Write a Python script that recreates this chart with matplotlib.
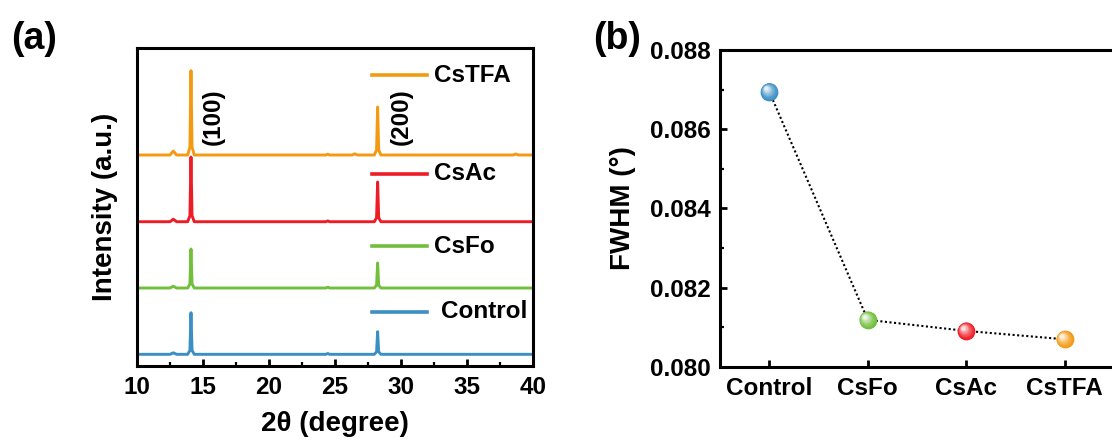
import matplotlib
matplotlib.use("Agg")
import matplotlib.pyplot as plt
import matplotlib.transforms as mtransforms
from matplotlib.colors import to_rgb
from matplotlib.ticker import MultipleLocator, AutoMinorLocator, FormatStrFormatter
import numpy as np

plt.rcParams['font.family'] = ['Liberation Sans', 'DejaVu Sans']
plt.rcParams['font.weight'] = 'bold'

# XRD patterns (stacked), read as peak profiles
two_theta = [10.0, 12.5, 12.75, 13.0, 13.84, 14.01, 14.09, 14.17, 14.34,
             24.3, 24.45, 24.6, 26.3, 26.5, 26.7,
             27.98, 28.15, 28.23, 28.31, 28.48, 38.5, 38.7, 38.9, 40.0]
control = [0, 0, 1.5, 0, 0, 4, 41.6, 4, 0, 0, 0.8, 0, 0, 0, 0,
           0, 2.5, 22.6, 2.5, 0, 0, 0, 0, 0]
csfo = [0, 0, 1.8, 0, 0, 4, 39.0, 4, 0, 0, 0.8, 0, 0, 0, 0,
        0, 2.8, 25.0, 2.8, 0, 0, 0, 0, 0]
csac = [0, 0, 2.5, 0, 0, 6, 64.7, 6, 0, 0, 0.8, 0, 0, 0, 0,
        0, 4, 39.7, 4, 0, 0, 0, 0, 0]
cstfa = [0, 0, 4, 0, 0, 8, 84.3, 8, 0, 0, 0.8, 0, 0, 1.2, 0,
         0, 5, 48.0, 5, 0, 0, 1, 0, 0]
offsets = [0, 66.3, 132.6, 199.3]

samples = ["Control", "CsFo", "CsAc", "CsTFA"]
colors = ["#3b8fc5", "#72bf3c", "#ee1c25", "#f39a12"]
patterns = [control, csfo, csac, cstfa]

# FWHM of the (100) peak
fwhm = [0.08695, 0.08119, 0.08091, 0.08070]

# legend rows (axes fraction) placed next to each trace
legend_y = [0.170, 0.377, 0.604, 0.915]
legend_text_x = [0.768, 0.75, 0.75, 0.75]

fig = plt.figure(figsize=(11.12, 4.42), dpi=100)
ax1 = fig.add_axes([0.1232, 0.1719, 0.3561, 0.7195])
ax2 = fig.add_axes([0.6475, 0.1697, 0.3543, 0.7172])

tick_font = 17.5
label_font = 20

for ax in (ax1, ax2):
    for sp in ax.spines.values():
        sp.set_linewidth(2.2)
    ax.tick_params(direction='in', width=2, length=5, labelsize=tick_font, pad=7)
    ax.tick_params(which='minor', direction='in', width=1.6, length=3)

# (a) stacked patterns
for y, off, c in zip(patterns, offsets, colors):
    ax1.plot(two_theta, np.array(y) + off, color=c, lw=2.1)

for name, c, ly, tx in zip(samples, colors, legend_y, legend_text_x):
    ax1.plot([0.593, 0.732], [ly, ly], color=c, lw=2.6, transform=ax1.transAxes)
    ax1.text(tx, ly, name, transform=ax1.transAxes, fontsize=tick_font,
             fontweight='bold', va='center', ha='left')

ax1.text(15.76, 0.783, "(100)", transform=ax1.get_xaxis_transform(),
         rotation=90, fontsize=tick_font, ha='center', va='center')
ax1.text(30.05, 0.783, "(200)", transform=ax1.get_xaxis_transform(),
         rotation=90, fontsize=tick_font, ha='center', va='center')

ax1.set_xlim(10, 40)
ax1.set_ylim(-11.7, 306.3)
ax1.xaxis.set_major_locator(MultipleLocator(5))
ax1.xaxis.set_minor_locator(AutoMinorLocator(2))
ax1.set_yticks([])
ax1.set_xlabel("2θ (degree)", fontsize=label_font, fontweight='bold', labelpad=9)
ax1.set_ylabel("Intensity (a.u.)", fontsize=label_font, fontweight='bold', labelpad=14)

# (b) FWHM with shaded balls
xpos = np.arange(1, len(samples) + 1)
ax2.plot(xpos, fwhm, ls=(0, (1, 1.2)), color='black', lw=1.5, zorder=2)


def draw_ball(ax, x, y, color, size=12.8, layers=16):
    base = np.array(to_rgb(color))
    for k in range(layers):
        f = k / layers
        ms = size * (1 - 0.85 * f)
        shade = base + (1 - base) * (f ** 1.4) * 0.95
        tr = mtransforms.offset_copy(ax.transData, fig=fig,
                                     x=-size * 0.2 * f, y=size * 0.2 * f,
                                     units='points')
        ax.plot([x], [y], 'o', ms=ms, color=shade, mec='none',
                transform=tr, zorder=3 + k * 0.01)


for x, y, c in zip(xpos, fwhm, colors):
    draw_ball(ax2, x, y, c)

ax2.set_xlim(0.5, 4.5)
ax2.set_ylim(0.080, 0.088)
ax2.set_xticks(xpos)
ax2.set_xticklabels(samples)
ax2.yaxis.set_major_locator(MultipleLocator(0.002))
ax2.yaxis.set_minor_locator(AutoMinorLocator(2))
ax2.yaxis.set_major_formatter(FormatStrFormatter('%.3f'))
ax2.set_ylabel("FWHM (°)", fontsize=label_font, fontweight='bold', labelpad=10)

fig.text(0.010, 0.89, "(a)", fontsize=27, fontweight='bold')
fig.text(0.533, 0.89, "(b)", fontsize=27, fontweight='bold')

fig.savefig("out.png", dpi=100)
